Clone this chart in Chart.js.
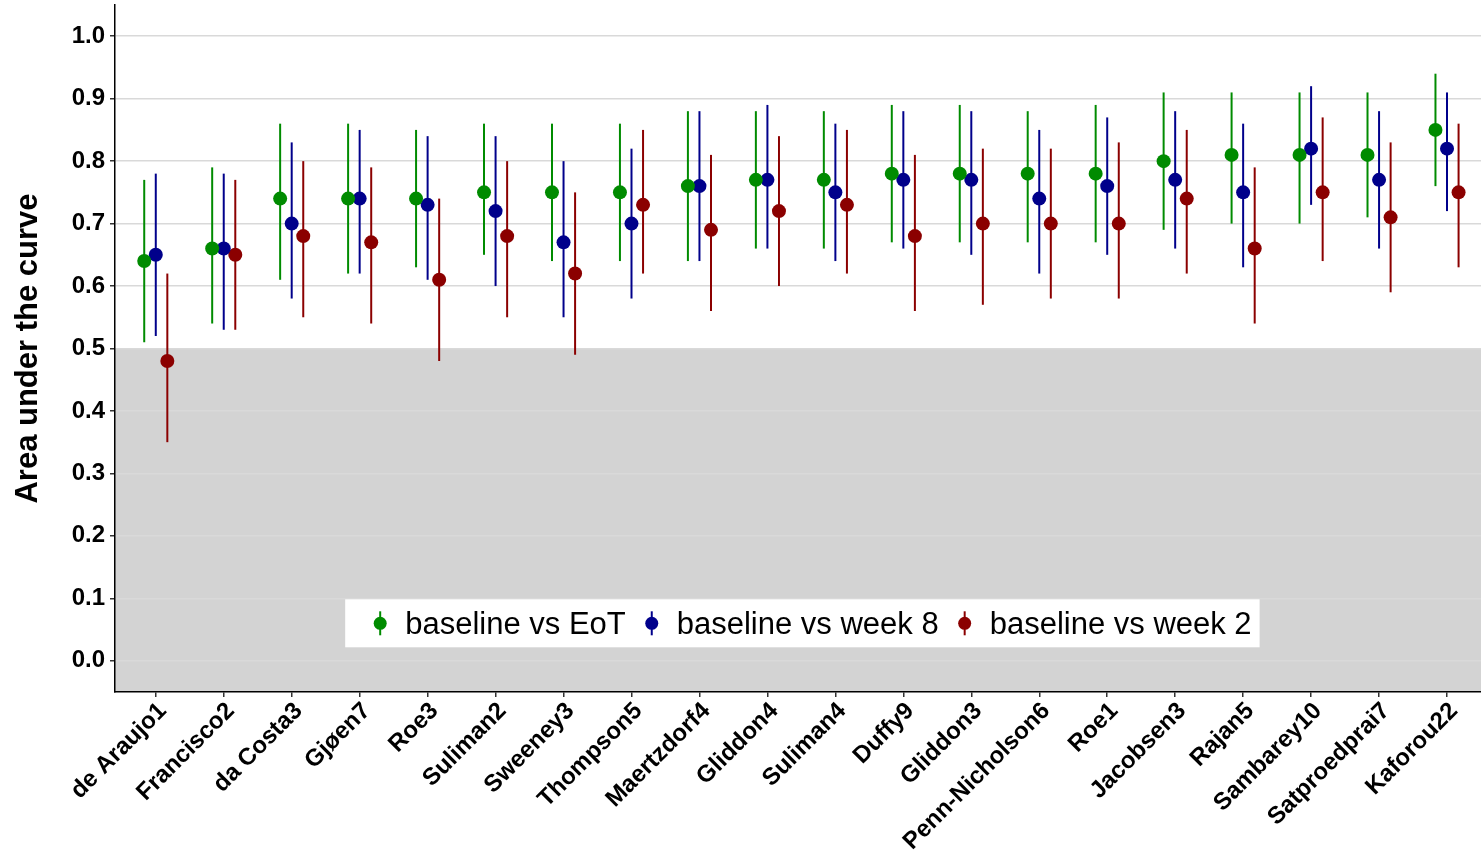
<!DOCTYPE html>
<html><head><meta charset="utf-8">
<script src="https://cdn.jsdelivr.net/npm/chart.js@4.4.1/dist/chart.umd.min.js"></script>
<style>html,body{margin:0;padding:0;background:#fff;overflow:hidden;}</style>
</head><body>
<canvas id="c" width="1481" height="850" style="width:1481px;height:850px;display:block"></canvas>
<script>
const categories = ['de Araujo1','Francisco2','da Costa3','Gjøen7','Roe3','Suliman2','Sweeney3','Thompson5','Maertzdorf4','Gliddon4','Suliman4','Duffy9','Gliddon3','Penn-Nicholson6','Roe1','Jacobsen3','Rajan5','Sambarey10','Satproedprai7','Kaforou22'];
const seriesNames = ['baseline vs EoT','baseline vs week 8','baseline vs week 2'];

const eotAUC   = [0.64,0.66,0.74,0.74,0.74,0.75,0.75,0.75,0.76,0.77,0.77,0.78,0.78,0.78,0.78,0.80,0.81,0.81,0.81,0.85];
const eotLower = [0.51,0.54,0.61,0.62,0.63,0.65,0.64,0.64,0.64,0.66,0.66,0.67,0.67,0.67,0.67,0.69,0.70,0.70,0.71,0.76];
const eotUpper = [0.77,0.79,0.86,0.86,0.85,0.86,0.86,0.86,0.88,0.88,0.88,0.89,0.89,0.88,0.89,0.91,0.91,0.91,0.91,0.94];

const wk8AUC   = [0.65,0.66,0.70,0.74,0.73,0.72,0.67,0.70,0.76,0.77,0.75,0.77,0.77,0.74,0.76,0.77,0.75,0.82,0.77,0.82];
const wk8Lower = [0.52,0.53,0.58,0.62,0.61,0.60,0.55,0.58,0.64,0.66,0.64,0.66,0.65,0.62,0.65,0.66,0.63,0.73,0.66,0.72];
const wk8Upper = [0.78,0.78,0.83,0.85,0.84,0.84,0.80,0.82,0.88,0.89,0.86,0.88,0.88,0.85,0.87,0.88,0.86,0.92,0.88,0.91];

const wk2AUC   = [0.48,0.65,0.68,0.67,0.61,0.68,0.62,0.73,0.69,0.72,0.73,0.68,0.70,0.70,0.70,0.74,0.66,0.75,0.71,0.75];
const wk2Lower = [0.35,0.53,0.55,0.54,0.48,0.55,0.49,0.62,0.56,0.60,0.62,0.56,0.57,0.58,0.58,0.62,0.54,0.64,0.59,0.63];
const wk2Upper = [0.62,0.77,0.80,0.79,0.74,0.80,0.75,0.85,0.81,0.84,0.85,0.81,0.82,0.82,0.83,0.85,0.79,0.87,0.83,0.86];

const yTickValues = [0.0,0.1,0.2,0.3,0.4,0.5,0.6,0.7,0.8,0.9,1.0];
const chanceLevel = 0.5;

const FONT = "'Liberation Sans', Arial, Helvetica, sans-serif";
const colors = ['#008B00','#00008B','#8B0000'];
const dodge = [-0.17, 0, 0.17];
const values = [eotAUC, wk8AUC, wk2AUC];
const lowers = [eotLower, wk8Lower, wk2Lower];
const uppers = [eotUpper, wk8Upper, wk2Upper];

const datasets = seriesNames.map((name, s) => ({
  label: name,
  data: categories.map((c, i) => ({x: i + dodge[s], y: values[s][i], lo: lowers[s][i], hi: uppers[s][i]})),
  backgroundColor: colors[s],
  borderColor: colors[s],
  pointRadius: 7,
  pointHoverRadius: 7,
  borderWidth: 0
}));

const bgPlugin = {
  id: 'bgRect',
  beforeDraw(chart) {
    const {ctx, chartArea: a, scales: {y}} = chart;
    const top = y.getPixelForValue(chanceLevel);
    ctx.save();
    ctx.fillStyle = '#d3d3d3';
    ctx.fillRect(a.left, top, a.right - a.left, a.bottom - top);
    ctx.restore();
  }
};

const errPlugin = {
  id: 'errBars',
  beforeDatasetsDraw(chart) {
    const {ctx, scales: {x, y}} = chart;
    ctx.save();
    ctx.lineWidth = 2;
    chart.data.datasets.forEach((ds) => {
      ctx.strokeStyle = ds.borderColor;
      ds.data.forEach(p => {
        const px = x.getPixelForValue(p.x);
        ctx.beginPath();
        ctx.moveTo(px, y.getPixelForValue(p.lo));
        ctx.lineTo(px, y.getPixelForValue(p.hi));
        ctx.stroke();
      });
    });
    ctx.restore();
  }
};

const legendPlugin = {
  id: 'innerLegend',
  afterDraw(chart) {
    const {ctx, scales: {x, y}} = chart;
    ctx.save();
    ctx.font = '31px ' + FONT;
    const padL = 35, keyGap = 25, itemGap = 26, padR = 8;
    const widths = seriesNames.map(n => ctx.measureText(n).width);
    let total = padL + padR;
    widths.forEach((w, i) => { total += keyGap + w + (i < widths.length - 1 ? itemGap : 0); });
    const cx = x.getPixelForValue((categories.length - 1) / 2) + 1;
    const cy = y.getPixelForValue(0.06);
    const h = 48;
    let left = cx - total / 2;
    ctx.fillStyle = '#ffffff';
    ctx.fillRect(left, cy - h / 2, total, h);
    let pos = left + padL;
    seriesNames.forEach((n, i) => {
      ctx.strokeStyle = colors[i];
      ctx.lineWidth = 2;
      ctx.beginPath();
      ctx.moveTo(pos, cy - 12);
      ctx.lineTo(pos, cy + 12);
      ctx.stroke();
      ctx.fillStyle = colors[i];
      ctx.beginPath();
      ctx.arc(pos, cy, 6.5, 0, Math.PI * 2);
      ctx.fill();
      ctx.fillStyle = '#000';
      ctx.textAlign = 'left';
      ctx.textBaseline = 'middle';
      ctx.fillText(n, pos + keyGap, cy + 2);
      pos += keyGap + widths[i] + itemGap;
    });
    ctx.restore();
  }
};

function zeroPad(scale) {
  scale.paddingTop = 0; scale.paddingBottom = 0;
  scale.paddingLeft = 0; scale.paddingRight = 0;
}

new Chart(document.getElementById('c'), {
  type: 'scatter',
  data: {datasets},
  options: {
    responsive: false,
    animation: false,
    events: [],
    layout: {autoPadding: false, padding: {top: 5, right: 0, left: 0, bottom: 0}},
    plugins: {legend: {display: false}, tooltip: {enabled: false}},
    scales: {
      x: {
        type: 'linear',
        min: -0.6,
        max: 19.5,
        afterBuildTicks(scale) { scale.ticks = categories.map((c, i) => ({value: i})); },
        afterFit(scale) { scale.height = 158; zeroPad(scale); },
        ticks: {
          autoSkip: false,
          minRotation: 45,
          maxRotation: 45,
          padding: 0,
          labelOffset: 7,
          color: '#000',
          font: {family: FONT, size: 24, weight: 'bold'},
          callback: (v) => categories[v]
        },
        grid: {display: true, drawOnChartArea: false, drawTicks: true, tickLength: 5, color: '#333', lineWidth: 1.5},
        border: {display: true, color: '#000', width: 1.5}
      },
      y: {
        min: -0.05,
        max: 1.05,
        afterBuildTicks(scale) { scale.ticks = yTickValues.map(v => ({value: v})); },
        afterFit(scale) { scale.width = 115; zeroPad(scale); },
        ticks: {
          padding: 5,
          color: '#000',
          font: {family: FONT, size: 24, weight: 'bold'},
          callback: (v) => Number(v).toFixed(1)
        },
        grid: {color: '#d9d9d9', lineWidth: 1.5, tickColor: '#333', tickLength: 5},
        border: {display: true, color: '#000', width: 1.5},
        title: {
          display: true,
          text: 'Area under the curve',
          color: '#000',
          font: {family: FONT, size: 31, weight: 'bold'},
          padding: {top: 10, bottom: 0}
        }
      }
    }
  },
  plugins: [bgPlugin, errPlugin, legendPlugin]
});
</script>
</body></html>
